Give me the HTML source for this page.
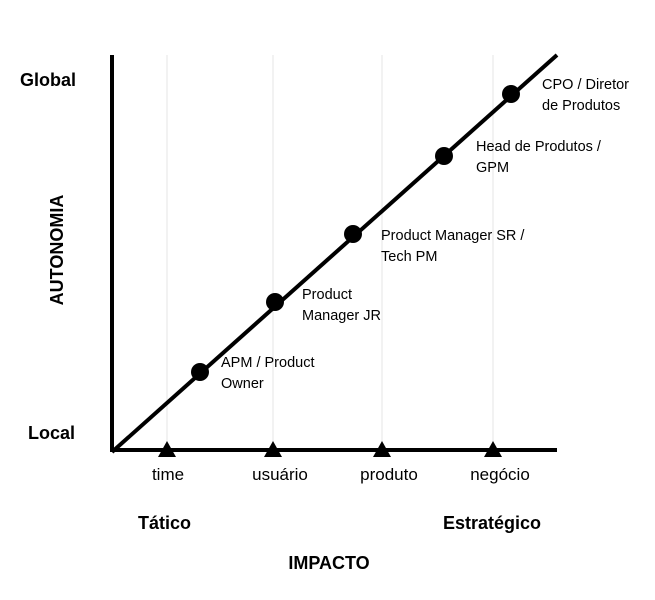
<!DOCTYPE html>
<html><head><style>body{margin:0;background:#fff}</style></head><body>
<svg width="655" height="595" xmlns="http://www.w3.org/2000/svg" font-family="Liberation Sans, sans-serif">
<g stroke="#e4e4e4" stroke-width="1">
<line x1="167" y1="55" x2="167" y2="450"/><line x1="273" y1="55" x2="273" y2="450"/>
<line x1="382" y1="55" x2="382" y2="450"/><line x1="493" y1="55" x2="493" y2="450"/>
</g>
<line x1="112" y1="55" x2="112" y2="452" stroke="#000" stroke-width="4"/>
<line x1="110" y1="450" x2="557" y2="450" stroke="#000" stroke-width="4"/>
<line x1="112" y1="452" x2="557" y2="55" stroke="#000" stroke-width="4"/>
<g fill="#000">
<circle cx="200" cy="372" r="9"/><circle cx="275" cy="302" r="9"/><circle cx="353" cy="234" r="9"/><circle cx="444" cy="156" r="9"/><circle cx="511" cy="94" r="9"/>
<polygon points="167,441 158,457 176,457"/><polygon points="273,441 264,457 282,457"/><polygon points="382,441 373,457 391,457"/><polygon points="493,441 484,457 502,457"/>
</g>
<g font-size="14.5" fill="#000">
<text x="221" y="367">APM / Product</text><text x="221" y="388">Owner</text>
<text x="302" y="299">Product</text><text x="302" y="320">Manager JR</text>
<text x="381" y="240">Product Manager SR /</text><text x="381" y="261">Tech PM</text>
<text x="476" y="151">Head de Produtos /</text><text x="476" y="172">GPM</text>
<text x="542" y="89">CPO / Diretor</text><text x="542" y="110">de Produtos</text>
</g>
<g font-size="17" text-anchor="middle">
<text x="168" y="480">time</text><text x="280" y="480">usuário</text><text x="389" y="480">produto</text><text x="500" y="480">negócio</text>
</g>
<g font-size="18" font-weight="bold">
<text x="20" y="86">Global</text><text x="28" y="439">Local</text>
<text x="138" y="529">Tático</text><text x="443" y="529">Estratégico</text>
<text x="329" y="569" text-anchor="middle">IMPACTO</text>
<text transform="translate(63,250) rotate(-90)" text-anchor="middle">AUTONOMIA</text>
</g>
</svg>
</body></html>
